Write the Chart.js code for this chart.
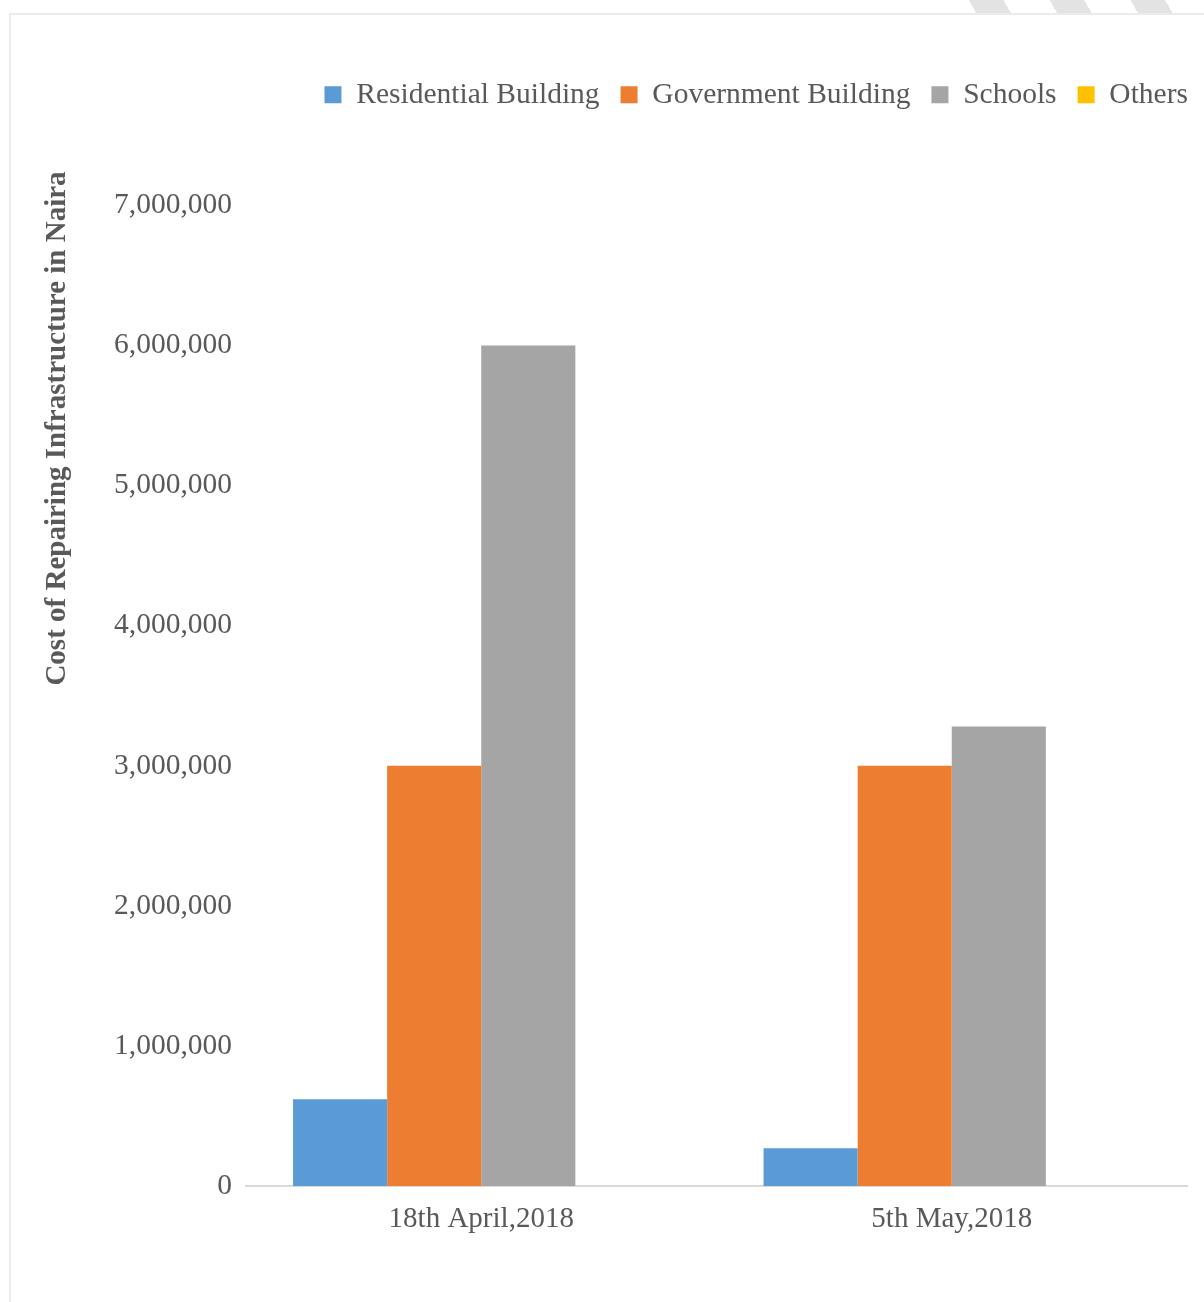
<!DOCTYPE html>
<html>
<head>
<meta charset="utf-8">
<script src="https://cdn.jsdelivr.net/npm/chart.js@4/dist/chart.umd.min.js"></script>
<style>
    html, body { margin: 0; padding: 0; background: #fff; overflow: hidden; }
    #frame {
        position: absolute; left: 9px; top: 13px; width: 1300px; height: 1400px;
        border-left: 2px solid #ebebeb; border-top: 2px solid #ebebeb;
    }
    #stripes {
        position: absolute; left: 930px; top: 0; width: 274px; height: 13px;
        background: repeating-linear-gradient(60deg, #fff 0 40px, #e3e3e3 40px 70px);
    }
    #wrap { position: absolute; left: 0; top: 0; width: 1204px; height: 1302px; }
</style>
</head>
<body>
<div id="stripes"></div>
<div id="frame"></div>
<div id="wrap"><canvas id="repairChart"></canvas></div>
<script>
const categories = ['18th April,2018', '5th May,2018'];
const residential = [620000, 270000];
const government = [3000000, 3000000];
const schools = [6000000, 3280000];
const others = [0, 0];
const yTicks = [0, 1000000, 2000000, 3000000, 4000000, 5000000, 6000000, 7000000];

const FONT = "'Liberation Serif', 'Times New Roman', serif";
const TEXT = '#595959';

// rotated axis title sits high on the left, like the original
const yTitlePlugin = {
    id: 'yTitle',
    afterDraw: (chart) => {
        const { ctx, chartArea } = chart;
        ctx.save();
        ctx.translate(58, chartArea.top + 223);
        ctx.rotate(-Math.PI / 2);
        ctx.font = 'bold 29px ' + FONT;
        ctx.fillStyle = TEXT;
        ctx.textAlign = 'center';
        ctx.textBaseline = 'middle';
        ctx.fillText('Cost of Repairing Infrastructure in Naira', 0, 0);
        ctx.restore();
    }
};

// extra room between legend and plot
const legendGap = {
    id: 'legendGap',
    beforeInit: (chart) => {
        const fit = chart.legend.fit;
        chart.legend.fit = function () {
            fit.call(this);
            this.height += 86;
        };
    }
};

const makeSet = (label, data, color) => ({
    label,
    data,
    backgroundColor: color,
    borderWidth: 0,
    categoryPercentage: 0.8,
    barPercentage: 1.0
});

new Chart(document.getElementById('repairChart'), {
    type: 'bar',
    data: {
        labels: categories,
        datasets: [
            makeSet('Residential Building', residential, '#5B9BD5'),
            makeSet('Government Building', government, '#ED7D31'),
            makeSet('Schools', schools, '#A5A5A5'),
            makeSet('Others', others, '#FFC000')
        ]
    },
    options: {
        responsive: true,
        maintainAspectRatio: false,
        animation: false,
        layout: { padding: { left: 10, right: -5, top: 59, bottom: 56 } },
        plugins: {
            legend: {
                position: 'top',
                align: 'end',
                labels: {
                    boxWidth: 17,
                    boxHeight: 17,
                    padding: 21,
                    color: TEXT,
                    font: { family: FONT, size: 29.5 }
                }
            },
            tooltip: { enabled: false }
        },
        scales: {
            x: {
                grid: { display: false, drawTicks: false },
                border: { display: true, color: '#d9d9d9', width: 2 },
                ticks: { color: TEXT, padding: 16, font: { family: FONT, size: 29 } },
                afterFit: (scale) => { scale.height = 60; }
            },
            y: {
                min: 0,
                max: 7000000,
                grid: { display: false, drawTicks: false },
                border: { display: false },
                afterBuildTicks: (scale) => { scale.ticks = yTicks.map(v => ({ value: v })); },
                ticks: {
                    color: TEXT,
                    padding: 14,
                    font: { family: FONT, size: 29.5 },
                    callback: (value) => value.toLocaleString('en-US')
                },
                afterFit: (scale) => { scale.width = 236; }
            },
            yRight: {
                position: 'right',
                display: true,
                grid: { display: false, drawTicks: false },
                border: { display: false },
                ticks: { display: false },
                afterFit: (scale) => { scale.width = 22; }
            }
        }
    },
    plugins: [yTitlePlugin, legendGap]
});
</script>
</body>
</html>
